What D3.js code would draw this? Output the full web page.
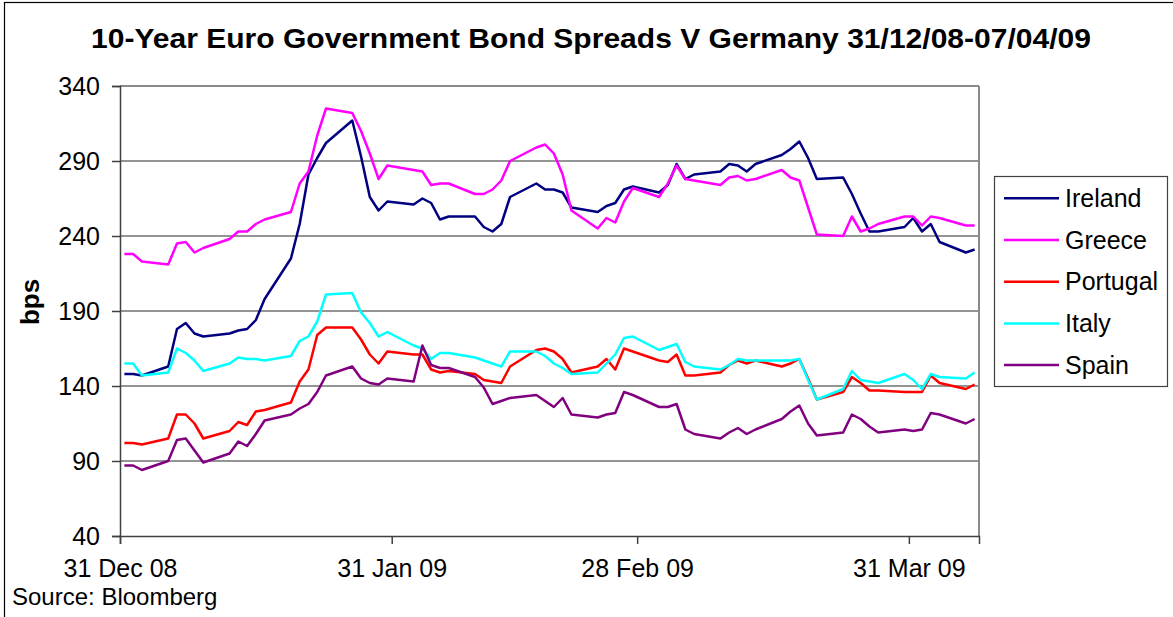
<!DOCTYPE html>
<html>
<head>
<meta charset="utf-8">
<script src="https://cdn.jsdelivr.net/npm/d3@7"></script>
<style>
  html, body { margin: 0; padding: 0; background: #fff; }
  svg { display: block; font-family: "Liberation Sans", Arial, sans-serif; }
</style>
</head>
<body>
<svg id="chart" width="1173" height="617"></svg>
<script>
// ---- Data ----
const dates = [
  "2008-12-31","2009-01-01","2009-01-02",
  "2009-01-05","2009-01-06","2009-01-07","2009-01-08","2009-01-09",
  "2009-01-12","2009-01-13","2009-01-14","2009-01-15","2009-01-16",
  "2009-01-19","2009-01-20","2009-01-21","2009-01-22","2009-01-23",
  "2009-01-26","2009-01-27","2009-01-28","2009-01-29","2009-01-30",
  "2009-02-02","2009-02-03","2009-02-04","2009-02-05","2009-02-06",
  "2009-02-09","2009-02-10","2009-02-11","2009-02-12","2009-02-13",
  "2009-02-16","2009-02-17","2009-02-18","2009-02-19","2009-02-20",
  "2009-02-23","2009-02-24","2009-02-25","2009-02-26","2009-02-27",
  "2009-03-02","2009-03-03","2009-03-04","2009-03-05","2009-03-06",
  "2009-03-09","2009-03-10","2009-03-11","2009-03-12","2009-03-13",
  "2009-03-16","2009-03-17","2009-03-18","2009-03-19","2009-03-20",
  "2009-03-23","2009-03-24","2009-03-25","2009-03-26","2009-03-27",
  "2009-03-30","2009-03-31","2009-04-01","2009-04-02","2009-04-03",
  "2009-04-06","2009-04-07"
];

const ireland = [148,148,147, 153,178,182,175,173, 175,177,178,184,198, 225,248,281,292,302,
  317,293,266,257,263, 261,265,262,251,253, 253,246,243,248,266, 275,271,271,269,259,
  256,260,262,271,273, 269,274,288,278,281, 283,288,287,283,288, 294,298,303,292,278,
  279,268,255,243,243, 246,252,243,248,236, 229,231];

const greece = [228,228,223, 221,235,236,229,232, 238,243,243,248,251, 256,275,283,307,325,
  322,310,295,278,287, 284,283,274,275,275, 268,268,271,277,290, 299,301,295,281,257,
  245,252,249,263,272, 266,275,287,278,277, 274,279,280,277,278, 284,279,277,259,241,
  240,253,243,245,248, 253,253,247,253,252, 247,247];

const portugal = [102,102,101, 105,121,121,115,105, 110,116,114,123,124, 129,143,151,174,179,
  179,171,161,155,163, 161,161,151,149,150, 148,144,143,142,153, 164,165,163,158,149,
  153,158,151,165,163, 157,156,161,147,147, 149,154,157,155,157, 153,155,158,145,131,
  136,146,142,137,137, 136,136,136,147,142, 138,141];

const italy = [155,155,147, 149,165,162,157,150, 155,159,158,158,157, 160,170,173,183,201,
  202,189,182,173,176, 167,165,158,162,162, 159,157,155,153,163, 163,160,155,152,148,
  149,155,161,172,173, 164,166,168,156,153, 151,154,158,157,157, 157,157,158,144,131,
  138,150,144,143,142, 148,144,138,148,146, 145,149];

const spain = [87,87,84, 90,104,105,97,89, 95,103,100,108,117, 121,125,128,136,147,
  153,145,142,141,145, 143,167,154,152,152, 146,139,128,130,132, 134,130,126,132,121,
  119,121,122,136,134, 126,126,128,111,108, 105,109,112,108,111, 118,123,127,115,107,
  109,121,118,113,109, 111,110,111,122,121, 115,118];

const seriesNames = ["Ireland", "Greece", "Portugal", "Italy", "Spain"];
const seriesColors = ["#000080", "#FF00FF", "#FF0000", "#00FFFF", "#800080"];
const seriesValues = [ireland, greece, portugal, italy, spain];

const yTicks = [40, 90, 140, 190, 240, 290, 340];
const xTickDates = ["2008-12-31", "2009-01-31", "2009-02-28", "2009-03-31"];
const xDomain = ["2008-12-31", "2009-04-08"];

const titleText = "10-Year Euro Government Bond Spreads V Germany 31/12/08-07/04/09";
const yLabel = "bps";
const sourceText = "Source: Bloomberg";

// ---- Layout ----
const W = 1173, H = 617;
const plot = { left: 120, right: 979, top: 86, bottom: 536 };

const parse = d3.utcParse("%Y-%m-%d");
const svg = d3.select("#chart");

// chart-area border
svg.append("rect")
  .attr("x", 4.5).attr("y", 2.5)
  .attr("width", W + 10).attr("height", H + 10)
  .attr("fill", "#fff").attr("stroke", "#000").attr("stroke-width", 1.2);

const x = d3.scaleUtc()
  .domain(xDomain.map(parse))
  .range([plot.left, plot.right]);

const y = d3.scaleLinear()
  .domain([40, 340])
  .range([plot.bottom, plot.top]);

// gridlines
svg.append("g")
  .selectAll("line")
  .data(yTicks.filter(t => t !== 40 && t !== 340))
  .join("line")
  .attr("x1", plot.left).attr("x2", plot.right)
  .attr("y1", d => y(d)).attr("y2", d => y(d))
  .attr("stroke", "#707070").attr("stroke-width", 1.5);

// plot border top & right
svg.append("line")
  .attr("x1", plot.left).attr("x2", plot.right)
  .attr("y1", y(340)).attr("y2", y(340))
  .attr("stroke", "#8a8a8a").attr("stroke-width", 2);
svg.append("line")
  .attr("x1", plot.right).attr("x2", plot.right)
  .attr("y1", plot.top).attr("y2", plot.bottom)
  .attr("stroke", "#8a8a8a").attr("stroke-width", 2);

// lines
const line = d3.line()
  .x((d, i) => x(d3.utcHour.offset(parse(dates[i]), 12)))
  .y(d => y(d));

svg.append("g")
  .selectAll("path")
  .data(seriesValues)
  .join("path")
  .attr("d", d => line(d))
  .attr("fill", "none")
  .attr("stroke", (d, i) => seriesColors[i])
  .attr("stroke-width", 2.5)
  .attr("stroke-linejoin", "round");

// y axis
const yAxis = d3.axisLeft(y).tickValues(yTicks).tickSize(8).tickPadding(12).tickFormat(d3.format("d"));
const gy = svg.append("g").attr("transform", `translate(${plot.left},0)`).call(yAxis);
gy.select(".domain").attr("stroke", "#404040").attr("stroke-width", 1.5);
gy.selectAll(".tick line").attr("stroke", "#404040").attr("stroke-width", 1.5);
gy.selectAll(".tick text")
  .attr("font-size", 25).attr("fill", "#000")
  .attr("font-family", "'Liberation Sans', Arial, sans-serif");

// x axis
const xAxis = d3.axisBottom(x)
  .tickValues(xTickDates.map(parse))
  .tickSize(8).tickPadding(15)
  .tickFormat(d3.utcFormat("%d %b %y"));
const gx = svg.append("g").attr("transform", `translate(0,${plot.bottom})`).call(xAxis);
gx.select(".domain").attr("stroke", "#404040").attr("stroke-width", 1.5);
gx.selectAll(".tick line").attr("stroke", "#404040").attr("stroke-width", 1.5);
gx.selectAll(".tick text")
  .attr("font-size", 25).attr("fill", "#000")
  .attr("font-family", "'Liberation Sans', Arial, sans-serif");

// title
svg.append("text")
  .attr("x", 591).attr("y", 48)
  .attr("text-anchor", "middle")
  .attr("font-size", 28).attr("font-weight", "bold")
  .attr("textLength", 1000).attr("lengthAdjust", "spacingAndGlyphs")
  .text(titleText);

// y label
svg.append("text")
  .attr("transform", "translate(39,302) rotate(-90)")
  .attr("text-anchor", "middle")
  .attr("font-size", 26).attr("font-weight", "bold")
  .text(yLabel);

// source
svg.append("text")
  .attr("x", 12).attr("y", 605)
  .attr("font-size", 24)
  .text(sourceText);

// legend
const lg = svg.append("g");
lg.append("rect")
  .attr("x", 994.5).attr("y", 176.5)
  .attr("width", 173).attr("height", 210)
  .attr("fill", "#fff").attr("stroke", "#404040").attr("stroke-width", 1.2);
const items = lg.selectAll("g.item")
  .data(seriesNames)
  .join("g")
  .attr("class", "item")
  .attr("transform", (d, i) => `translate(0,${198.3 + i * 41.7})`);
items.append("line")
  .attr("x1", 1004).attr("x2", 1059)
  .attr("y1", 0).attr("y2", 0)
  .attr("stroke", (d, i) => seriesColors[i])
  .attr("stroke-width", 2.5);
items.append("text")
  .attr("x", 1065).attr("y", 0).attr("dy", "0.35em")
  .attr("font-size", 25)
  .text(d => d);
</script>
</body>
</html>
